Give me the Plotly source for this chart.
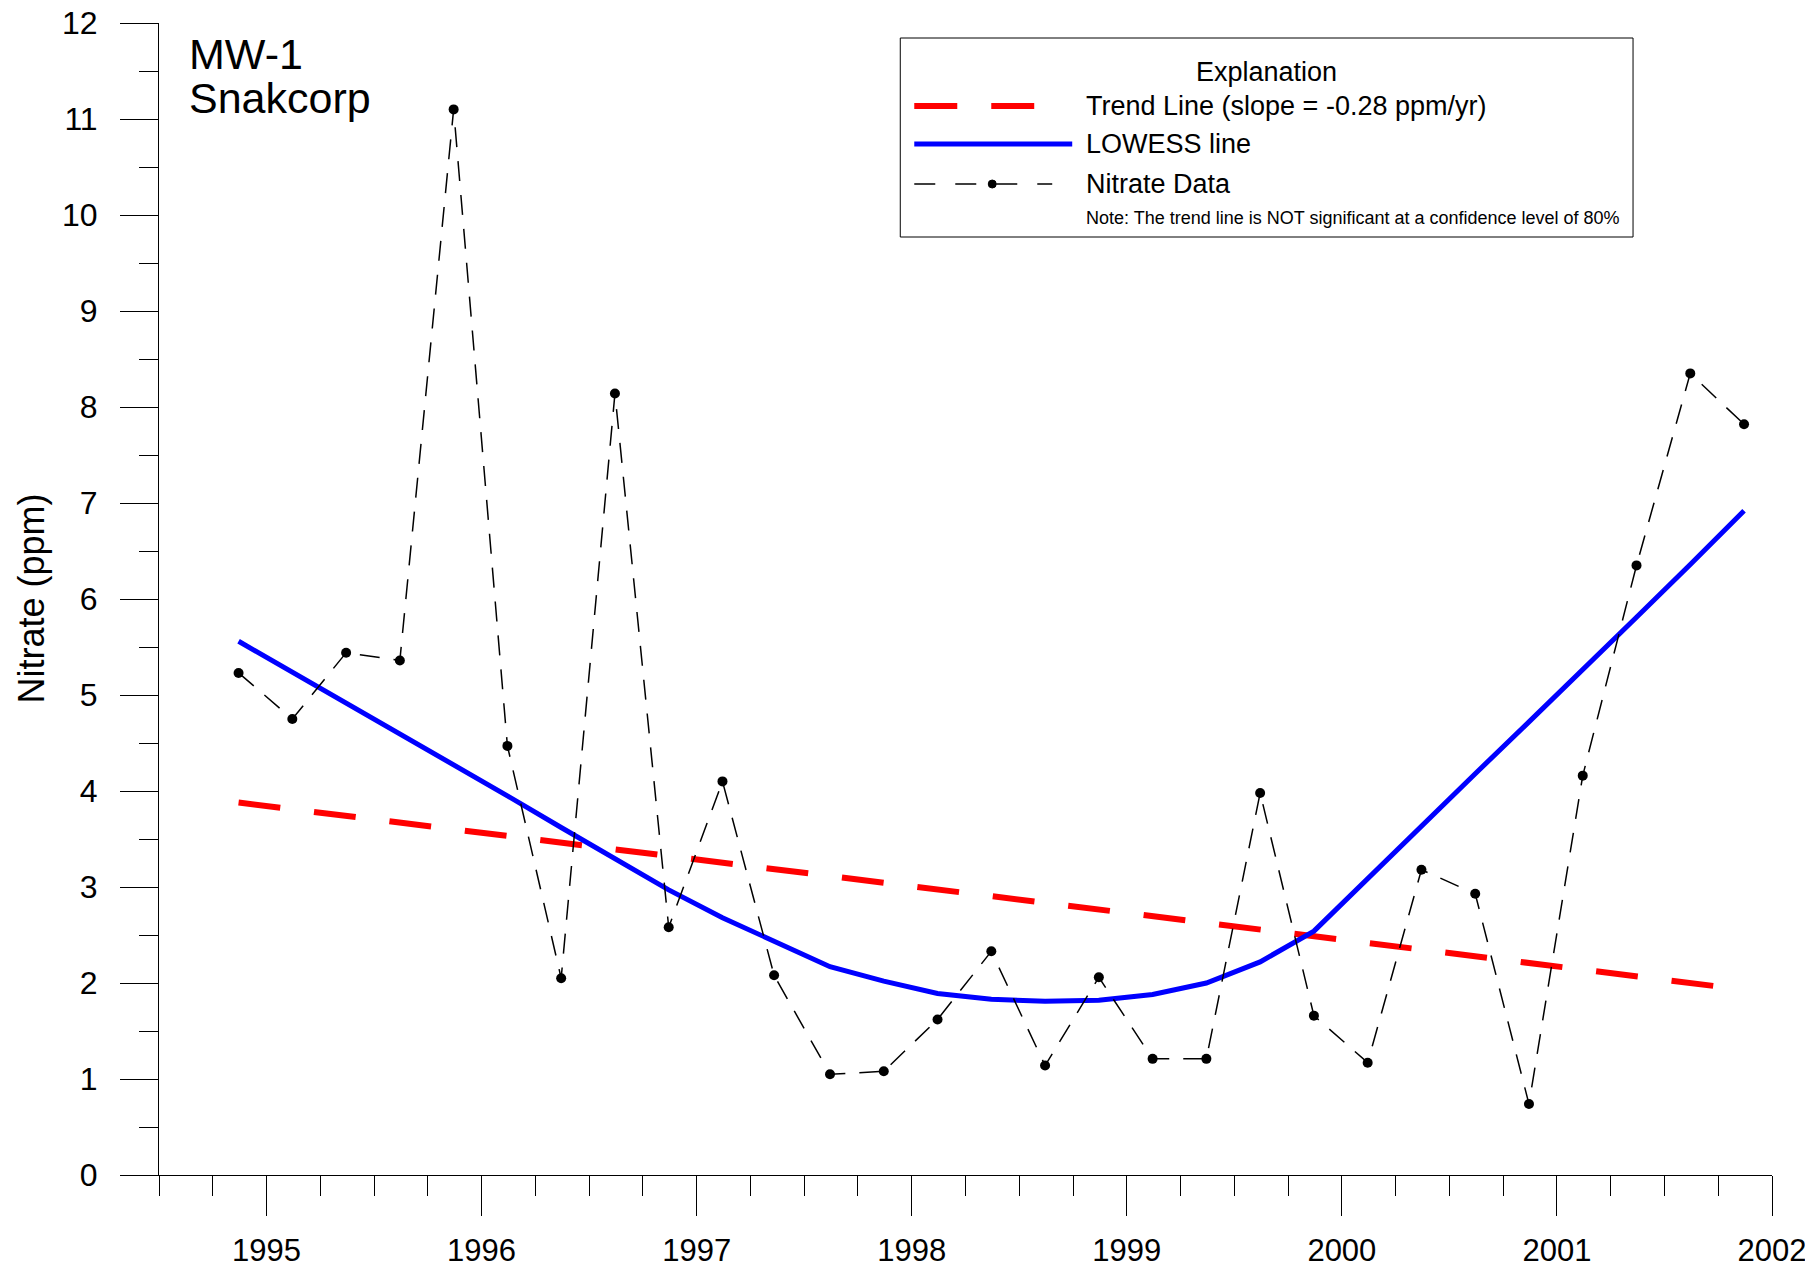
import plotly.graph_objects as go

# quarterly sampling dates (decimal years) and nitrate values (ppm)
years = [1994.87, 1995.12, 1995.37, 1995.62, 1995.87, 1996.12, 1996.37, 1996.62,
         1996.87, 1997.12, 1997.36, 1997.62, 1997.87, 1998.12, 1998.37, 1998.62,
         1998.87, 1999.12, 1999.37, 1999.62, 1999.87, 2000.12, 2000.37, 2000.62,
         2000.87, 2001.12, 2001.37, 2001.62, 2001.87]
nitrate = [5.23, 4.75, 5.44, 5.36, 11.10, 4.47, 2.05, 8.14,
           2.58, 4.10, 2.08, 1.05, 1.08, 1.62, 2.33, 1.14,
           2.06, 1.21, 1.21, 3.98, 1.66, 1.17, 3.18, 2.93,
           0.74, 4.16, 6.35, 8.35, 7.82]
lowess = [5.56, 5.24, 4.92, 4.60, 4.28, 3.95, 3.62, 3.29,
          2.97, 2.68, 2.43, 2.17, 2.02, 1.89, 1.83, 1.81,
          1.82, 1.88, 2.00, 2.22, 2.54, 3.09, 3.64, 4.18,
          4.72, 5.26, 5.81, 6.36, 6.92]
trend_years = [1994.87, 2001.87]
trend_vals = [3.88, 1.93]

year_ticks = [1995, 1996, 1997, 1998, 1999, 2000, 2001, 2002]
year_labels = ["1995", "1996", "1997", "1998", "1999", "2000", "2001", "2002"]
ppm_ticks = list(range(0, 13))

# page is 1813x1268, html body has an 8px margin
OFF = 8
W, H = 1813 - OFF, 1268 - OFF
L, R, T, B = 158.5, 1772, 23, 1175      # plot area in page pixels
FONT = "Liberation Sans, Arial, sans-serif"


def px(x):
    return (x - L) / (R - L)


def py(y):
    return (B - y) / (B - T)


fig = go.Figure()
fig.add_trace(go.Scatter(x=trend_years, y=trend_vals, mode="lines",
                         line=dict(color="#ff0000", width=6, dash="42px,34px")))
fig.add_trace(go.Scatter(x=years, y=lowess, mode="lines",
                         line=dict(color="#0000ff", width=5)))
fig.add_trace(go.Scatter(x=years, y=nitrate, mode="lines+markers",
                         line=dict(color="black", width=1.5, dash="20px,14px"),
                         marker=dict(color="black", size=10)))

# legend box drawn by hand
shapes = [
    dict(type="rect", xref="paper", yref="paper", x0=px(900), x1=px(1633),
         y0=py(237), y1=py(38), line=dict(color="black", width=1),
         fillcolor="white", layer="below"),
    dict(type="line", xref="paper", yref="paper", x0=px(914), x1=px(1034),
         y0=py(106), y1=py(106), line=dict(color="#ff0000", width=6, dash="43px,34px")),
    dict(type="line", xref="paper", yref="paper", x0=px(914), x1=px(1072),
         y0=py(144), y1=py(144), line=dict(color="#0000ff", width=5)),
    dict(type="line", xref="paper", yref="paper", x0=px(914), x1=px(1052),
         y0=py(184), y1=py(184), line=dict(color="black", width=1.5, dash="21px,20px")),
    dict(type="circle", xref="paper", yref="paper", x0=px(988), x1=px(996),
         y0=py(188), y1=py(180), line=dict(color="black", width=1), fillcolor="black"),
]

ann = [
    dict(text="MW-1", x=px(187), y=py(54), xanchor="left", yanchor="middle",
         font=dict(size=43)),
    dict(text="Snakcorp", x=px(187), y=py(98), xanchor="left", yanchor="middle",
         font=dict(size=43)),
    dict(text="Nitrate (ppm)", x=px(30), y=0.5, textangle=-90, xanchor="center",
         yanchor="middle", font=dict(size=36)),
    dict(text="Explanation", x=px(1266), y=py(72), xanchor="center", yanchor="middle",
         font=dict(size=27)),
    dict(text="Trend Line (slope = -0.28 ppm/yr)", x=px(1084), y=py(106),
         xanchor="left", yanchor="middle", font=dict(size=27)),
    dict(text="LOWESS line", x=px(1084), y=py(144), xanchor="left", yanchor="middle",
         font=dict(size=27)),
    dict(text="Nitrate Data", x=px(1084), y=py(184), xanchor="left", yanchor="middle",
         font=dict(size=27)),
    dict(text="Note: The trend line is NOT significant at a confidence level of 80%",
         x=px(1084), y=py(218), xanchor="left", yanchor="middle", font=dict(size=18)),
]
for a in ann:
    a.update(xref="paper", yref="paper", showarrow=False)
    a["font"].update(color="black", family=FONT)

fig.update_layout(
    width=W, height=H,
    margin=dict(l=L - OFF, r=W - (R - OFF), t=T - OFF, b=H - (B - OFF), pad=0,
                autoexpand=False),
    paper_bgcolor="white", plot_bgcolor="white",
    showlegend=False,
    font=dict(family=FONT, color="black"),
    shapes=shapes, annotations=ann,
    xaxis=dict(range=[1994.5, 2002], tickmode="array", tickvals=year_ticks,
               ticktext=year_labels, ticks="outside", ticklen=40, tickwidth=1,
               tickcolor="black", showline=True, linecolor="black", linewidth=1,
               showgrid=False, zeroline=False, tickfont=dict(size=31),
               ticklabelstandoff=8, ticklabeloverflow="allow", automargin=False,
               minor=dict(tick0=1994.5, dtick=0.25, ticks="outside", ticklen=20,
                          tickcolor="black", tickwidth=1, showgrid=False)),
    yaxis=dict(range=[0, 12], tickmode="array", tickvals=ppm_ticks,
               ticks="outside", ticklen=38, tickwidth=1, tickcolor="black",
               showline=True, linecolor="black", linewidth=1, showgrid=False,
               zeroline=False, tickfont=dict(size=32), ticklabelstandoff=16,
               ticklabeloverflow="allow", automargin=False,
               minor=dict(tick0=0, dtick=0.5, ticks="outside", ticklen=19,
                          tickcolor="black", tickwidth=1, showgrid=False)),
)

fig.write_html("out.html")
